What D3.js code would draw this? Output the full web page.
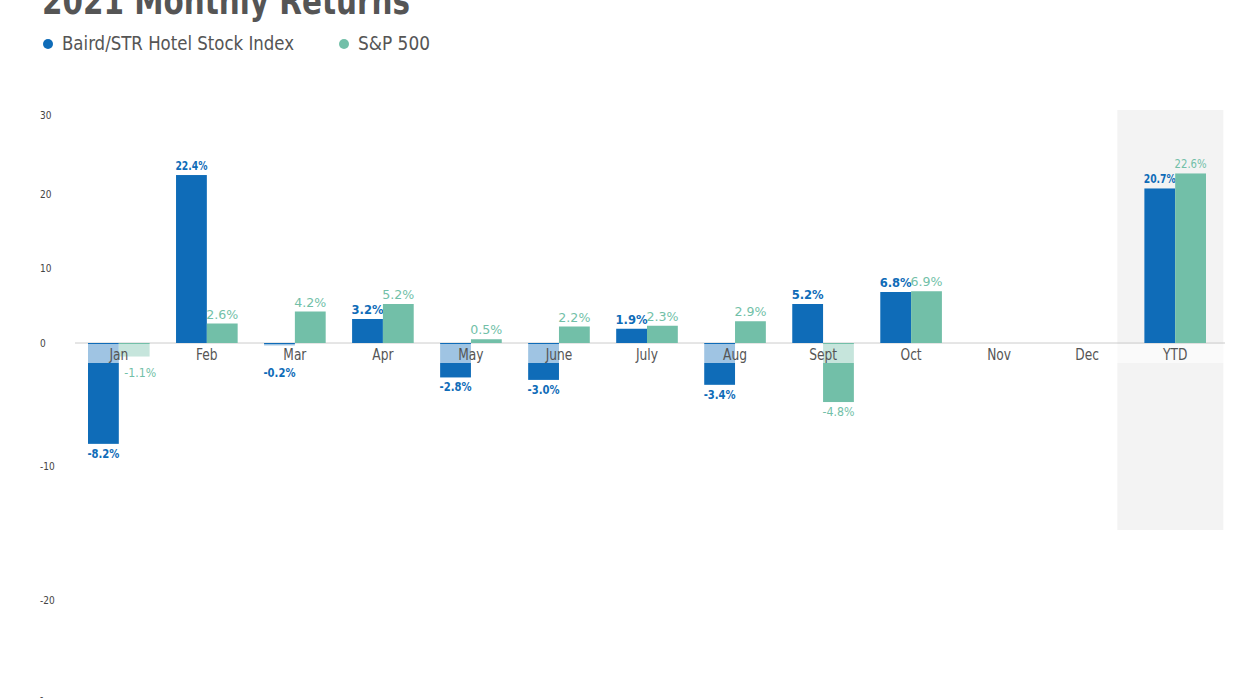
<!DOCTYPE html>
<html><head><meta charset="utf-8">
<script src="https://cdn.jsdelivr.net/npm/d3@7"></script>
<style>
body{margin:0;background:#fff;}
text{font-family:"Liberation Sans Narrow","DejaVu Sans Condensed","Roboto",sans-serif;}
</style></head>
<body><svg id="chart" width="1245" height="700"></svg>
<script>
const categories = ['Jan','Feb','Mar','Apr','May','June','July','Aug','Sept','Oct','Nov','Dec','YTD'];
const hotelValues = [-8.2, 22.4, -0.2, 3.2, -2.8, -3.0, 1.9, -3.4, 5.2, 6.8, null, null, 20.7];
const spValues = [-1.1, 2.6, 4.2, 5.2, 0.5, 2.2, 2.3, 2.9, -4.8, 6.9, null, null, 22.6];
const yTicks = [30, 20, 10, 0, -10, -20];
const seriesNames = ['Baird/STR Hotel Stock Index', 'S&P 500'];
const colors = ['#0f6cb8', '#72bfa8'];

const svg = d3.select('#chart');

// the original axis is not evenly spaced, so use a piecewise scale
const y = d3.scaleLinear()
	.domain([-30, -20, -10, 0, 10, 20, 30])
	.range([735, 600, 466, 343, 268, 194, 115]);

const x = d3.scaleBand().domain(categories).range([88, 1206]).paddingInner(0.3);
const xSeries = d3.scaleBand().domain([0, 1]).range([0, x.bandwidth()]);

svg.append('text').attr('x', 42).attr('y', 14)
	.attr('font-size', 38).attr('font-weight', 'bold').attr('fill', '#555')
	.attr('textLength', 368).attr('lengthAdjust', 'spacingAndGlyphs')
	.text('2021 Monthly Returns');

const legend = svg.append('g');
[[48, 0, 232], [344, 1, 72]].forEach(([lx, i, len]) => {
	legend.append('circle').attr('cx', lx).attr('cy', 44).attr('r', 5).attr('fill', colors[i]);
	legend.append('text').attr('x', lx + 14).attr('y', 50).attr('font-size', 19)
		.attr('fill', '#555').attr('textLength', len).attr('lengthAdjust', 'spacingAndGlyphs')
		.text(seriesNames[i]);
});

// YTD highlight
svg.append('rect')
	.attr('x', x('YTD') - 27).attr('width', 106)
	.attr('y', 110).attr('height', 420).attr('fill', '#f3f3f3');

svg.append('g').selectAll('text').data(yTicks).join('text')
	.attr('x', 40).attr('y', d => y(d) + 4)
	.attr('font-size', 10).attr('fill', '#444')
	.text(d => d);

svg.append('line').attr('x1', 75).attr('x2', 1225)
	.attr('y1', y(0)).attr('y2', y(0)).attr('stroke', '#ccc');

const rows = categories.map((c, i) => [hotelValues[i], spValues[i]]);

rows.forEach((vals, ci) => {
	vals.forEach((v, si) => {
		if (v === null) return;
		const bx = x(categories[ci]) + xSeries(si);
		svg.append('rect')
			.attr('x', bx).attr('width', xSeries.bandwidth())
			.attr('y', Math.min(y(v), y(0))).attr('height', Math.abs(y(v) - y(0)))
			.attr('fill', colors[si]);
		svg.append('text')
			.attr('x', bx + xSeries.bandwidth() / 2 + (ci === 0 && si === 1 ? 6 : 0))
			.attr('y', v >= 0 ? y(v) - 5 : Math.max(y(v), y(0) + 20) + 14)
			.attr('text-anchor', 'middle').attr('font-size', 12)
			.attr('font-weight', si === 0 ? 'bold' : 'normal')
			.attr('fill', colors[si])
			.attr('textLength', 32).attr('lengthAdjust', 'spacingAndGlyphs')
			.text(v.toFixed(1) + '%');
	});
});

// category label band washes out bars behind it
svg.append('rect').attr('x', 75).attr('width', 1150)
	.attr('y', y(0) + 1).attr('height', 19)
	.attr('fill', '#fff').attr('opacity', 0.6);

svg.append('g').selectAll('text').data(categories).join('text')
	.attr('x', d => x(d) + x.bandwidth() / 2).attr('y', y(0) + 17)
	.attr('text-anchor', 'middle').attr('font-size', 16).attr('fill', '#555')
	.attr('transform', d => { const cx = x(d) + x.bandwidth() / 2; return `translate(${cx},0) scale(0.85,1) translate(${-cx},0)`; })
	.text(d => d);

svg.append('text').attr('x', 40).attr('y', 700).attr('font-size', 10).attr('fill', '#444').text('-');
</script></body></html>
